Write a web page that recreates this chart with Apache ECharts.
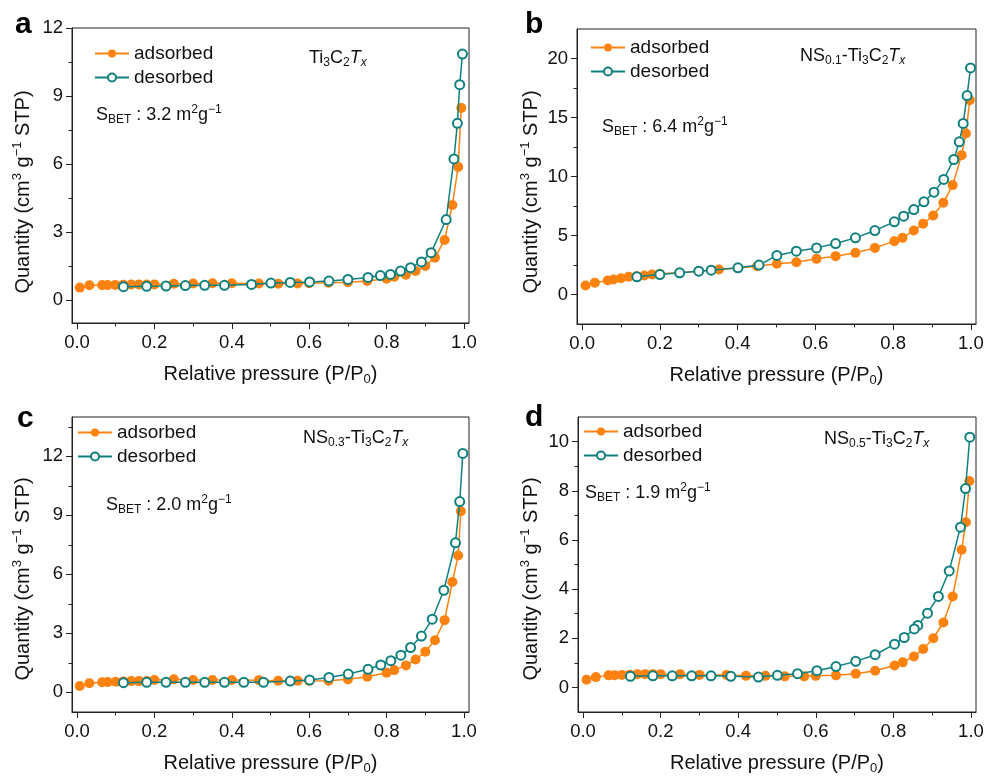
<!DOCTYPE html>
<html><head><meta charset="utf-8">
<script src="https://cdn.jsdelivr.net/npm/echarts@6/dist/echarts.min.js"></script>
<style>html,body{margin:0;padding:0;background:#fff}#c{width:987px;height:776px}</style>
</head><body><div id="c"></div>
<script>
// ---------- data ----------
const xTicks = [0, 0.2, 0.4, 0.6, 0.8, 1.0];
const xMinor = [0.1, 0.3, 0.5, 0.7, 0.9];

const aYTicks = [0, 3, 6, 9, 12];
const aYMinor = [1.5, 4.5, 7.5, 10.5];
const bYTicks = [0, 5, 10, 15, 20];
const bYMinor = [2.5, 7.5, 12.5, 17.5];
const cYTicks = [0, 3, 6, 9, 12];
const cYMinor = [1.5, 4.5, 7.5, 10.5, 13.5];
const dYTicks = [0, 2, 4, 6, 8, 10];
const dYMinor = [1, 3, 5, 7, 9];

// panel a: Ti3C2Tx
const aAdsX = [0.007,0.032,0.065,0.079,0.099,0.12,0.14,0.16,0.18,0.20,0.25,0.30,0.35,0.40,0.47,0.52,0.57,0.60,0.65,0.70,0.75,0.80,0.82,0.85,0.875,0.90,0.925,0.95,0.97,0.985,0.993];
const aAdsY = [0.56,0.66,0.67,0.67,0.68,0.69,0.70,0.70,0.70,0.70,0.73,0.74,0.75,0.75,0.74,0.73,0.74,0.75,0.77,0.80,0.85,0.95,1.04,1.13,1.29,1.51,1.88,2.66,4.2,5.88,8.48];
const aDesX = [0.996,0.989,0.983,0.974,0.954,0.915,0.89,0.862,0.836,0.81,0.784,0.752,0.70,0.651,0.601,0.551,0.501,0.451,0.381,0.33,0.28,0.23,0.18,0.12];
const aDesY = [10.85,9.5,7.8,6.23,3.56,2.1,1.69,1.44,1.29,1.14,1.09,1.01,0.92,0.85,0.81,0.79,0.76,0.70,0.66,0.66,0.65,0.63,0.62,0.60];

// panel b: NS0.1-Ti3C2Tx
const bAdsX = [0.009,0.033,0.066,0.081,0.10,0.12,0.14,0.16,0.18,0.20,0.25,0.30,0.352,0.40,0.45,0.501,0.551,0.603,0.652,0.703,0.753,0.803,0.824,0.853,0.877,0.903,0.929,0.953,0.976,0.987,0.997];
const bAdsY = [0.76,0.99,1.19,1.27,1.38,1.5,1.55,1.61,1.69,1.75,1.85,1.98,2.12,2.25,2.4,2.6,2.74,3.02,3.25,3.53,3.95,4.52,4.8,5.42,5.99,6.69,7.77,9.27,11.81,13.64,16.47];
const bDesX = [0.999,0.99,0.98,0.97,0.956,0.93,0.905,0.879,0.853,0.827,0.803,0.753,0.703,0.652,0.603,0.551,0.501,0.455,0.401,0.332,0.30,0.251,0.20,0.141];
const bDesY = [19.2,16.86,14.5,12.94,11.44,9.75,8.67,7.85,7.2,6.64,6.16,5.42,4.8,4.32,3.95,3.67,3.31,2.49,2.26,2.06,1.98,1.84,1.69,1.5];

// panel c: NS0.3-Ti3C2Tx
const cAdsX = [0.007,0.032,0.065,0.079,0.10,0.12,0.14,0.16,0.18,0.20,0.25,0.30,0.35,0.40,0.47,0.52,0.57,0.60,0.65,0.70,0.75,0.80,0.82,0.85,0.875,0.90,0.925,0.95,0.97,0.985,0.992];
const cAdsY = [0.32,0.46,0.51,0.52,0.54,0.55,0.57,0.57,0.58,0.63,0.66,0.63,0.63,0.63,0.62,0.59,0.59,0.58,0.59,0.66,0.79,1.0,1.13,1.37,1.67,2.06,2.65,3.67,5.61,6.96,9.21];
const cDesX = [0.997,0.989,0.978,0.948,0.918,0.89,0.862,0.837,0.811,0.785,0.752,0.701,0.651,0.601,0.551,0.482,0.431,0.381,0.33,0.28,0.23,0.18,0.12];
const cDesY = [12.15,9.7,7.6,5.19,3.72,2.86,2.28,1.89,1.61,1.39,1.17,0.93,0.76,0.63,0.57,0.51,0.51,0.51,0.51,0.51,0.51,0.51,0.49];

// panel d: NS0.5-Ti3C2Tx
const dAdsX = [0.009,0.033,0.066,0.081,0.10,0.12,0.14,0.16,0.18,0.20,0.25,0.30,0.37,0.42,0.47,0.52,0.57,0.60,0.652,0.703,0.753,0.803,0.824,0.853,0.877,0.903,0.929,0.953,0.976,0.987,0.996];
const dAdsY = [0.31,0.42,0.49,0.50,0.51,0.52,0.54,0.54,0.54,0.54,0.54,0.51,0.51,0.47,0.47,0.45,0.45,0.47,0.49,0.56,0.68,0.89,1.02,1.26,1.56,2.0,2.64,3.7,5.6,6.72,8.4];
const dDesX = [0.997,0.986,0.973,0.944,0.916,0.888,0.863,0.854,0.828,0.803,0.753,0.703,0.652,0.603,0.553,0.501,0.452,0.381,0.33,0.28,0.23,0.18,0.122];
const dDesY = [10.18,8.09,6.52,4.74,3.7,3.02,2.52,2.38,2.03,1.76,1.33,1.06,0.85,0.68,0.56,0.49,0.42,0.45,0.47,0.47,0.47,0.47,0.45];

const panelLetters = ['a', 'b', 'c', 'd'];
const sampleNames = [
  '{n|Ti}{sub|3}{n|C}{sub|2}{i|T}{isub|x}',
  '{n|NS}{sub|0.1}{n|-Ti}{sub|3}{n|C}{sub|2}{i|T}{isub|x}',
  '{n|NS}{sub|0.3}{n|-Ti}{sub|3}{n|C}{sub|2}{i|T}{isub|x}',
  '{n|NS}{sub|0.5}{n|-Ti}{sub|3}{n|C}{sub|2}{i|T}{isub|x}'
];
const sbetValues = ['3.2', '6.4', '2.0', '1.9'];
const seriesNames = ['adsorbed', 'desorbed'];
const xTitle = '{n|Relative pressure (P/P}{sub|0}{n|)}';
const yTitle = '{n|Quantity (cm}{sup|3}{n| g}{sup|\u22121}{n| STP)}';

// ---------- styling / layout ----------
const F = '"Liberation Sans", Arial, Helvetica, sans-serif';
const TXT = '#111';
const AX = '#222';
const ORANGE = '#FC820F';
const TEAL = '#10807E';

function rich(size) {
  const s = Math.round(size * 0.66);
  return {
    n: {fontSize: size, fontFamily: F, color: TXT, fill: TXT, lineHeight: size + 4},
    i: {fontSize: size, fontFamily: F, color: TXT, fill: TXT, fontStyle: 'italic', lineHeight: size + 4},
    sub: {fontSize: s, fontFamily: F, color: TXT, fill: TXT, lineHeight: 4, verticalAlign: 'bottom'},
    isub: {fontSize: s, fontFamily: F, color: TXT, fill: TXT, fontStyle: 'italic', lineHeight: 4, verticalAlign: 'bottom'},
    sup: {fontSize: s, fontFamily: F, color: TXT, fill: TXT, lineHeight: s - 1, verticalAlign: 'top'}
  };
}

const panels = [
  {ads: [aAdsX, aAdsY], des: [aDesX, aDesY], yMin: -1, yMax: 12, yTicks: aYTicks, yMinor: aYMinor},
  {ads: [bAdsX, bAdsY], des: [bDesX, bDesY], yMin: -2.5, yMax: 22.5, yTicks: bYTicks, yMinor: bYMinor},
  {ads: [cAdsX, cAdsY], des: [cDesX, cDesY], yMin: -1, yMax: 14, yTicks: cYTicks, yMinor: cYMinor},
  {ads: [dAdsX, dAdsY], des: [dDesX, dDesY], yMin: -1, yMax: 11, yTicks: dYTicks, yMinor: dYMinor}
];

const layout = [
  {grid: {left: 72, top: 28, width: 397, height: 295}, legend: {left: 94, top: 44}, letter: [15, 25], yT: [23, 192], sample: [309, 58], sbet: [96, 115]},
  {grid: {left: 577, top: 29, width: 399, height: 295}, legend: {left: 590, top: 38}, letter: [525, 25], yT: [531, 192], sample: [800, 56], sbet: [602, 127]},
  {grid: {left: 72, top: 417, width: 397, height: 295}, legend: {left: 77, top: 423}, letter: [17, 419], yT: [23, 579], sample: [303, 438], sbet: [106, 505]},
  {grid: {left: 578, top: 417, width: 398, height: 295}, legend: {left: 583, top: 422}, letter: [525, 418], yT: [531, 579], sample: [824, 439], sbet: [585, 493]}
];

const zip = (xs, ys) => xs.map((x, k) => [x, ys[k]]);

const option = {
  backgroundColor: '#fff',
  animation: false,
  grid: [], xAxis: [], yAxis: [], series: [], legend: [], graphic: []
};

const XMIN = -0.013, XMAX = 1.013;

panels.forEach((p, i) => {
  const L = layout[i];
  option.grid.push(Object.assign({show: true, borderColor: AX, borderWidth: 1, backgroundColor: 'transparent', containLabel: false, outerBoundsMode: 'none'}, L.grid));
  const lineSt = {color: AX, width: 1};
  option.xAxis.push({
    gridIndex: i, type: 'value', min: XMIN, max: XMAX, position: 'bottom',
    axisLine: {show: true, onZero: false, lineStyle: lineSt},
    axisTick: {show: true, customValues: xTicks, length: 6, lineStyle: lineSt},
    axisLabel: {customValues: xTicks, formatter: v => Number(v).toFixed(1), fontSize: 18.5, color: TXT, fontFamily: F, margin: 10},
    splitLine: {show: false},
    name: xTitle, nameLocation: 'middle', nameGap: 39,
    nameTextStyle: {rich: rich(20), fontSize: 20, fontFamily: F, color: TXT}
  });
  option.xAxis.push({
    gridIndex: i, type: 'value', min: XMIN, max: XMAX, position: 'bottom',
    axisLine: {show: false, onZero: false},
    axisTick: {show: true, customValues: xMinor, length: 3.5, lineStyle: lineSt},
    axisLabel: {show: false}, splitLine: {show: false}
  });
  option.yAxis.push({
    gridIndex: i, type: 'value', min: p.yMin, max: p.yMax, position: 'left',
    axisLine: {show: true, onZero: false, lineStyle: lineSt},
    axisTick: {show: true, customValues: p.yTicks, length: 6, lineStyle: lineSt},
    axisLabel: {customValues: p.yTicks, fontSize: 18.5, color: TXT, fontFamily: F, margin: 9},
    splitLine: {show: false}
  });
  option.yAxis.push({
    gridIndex: i, type: 'value', min: p.yMin, max: p.yMax, position: 'left',
    axisLine: {show: false, onZero: false},
    axisTick: {show: true, customValues: p.yMinor, length: 3.5, lineStyle: lineSt},
    axisLabel: {show: false}, splitLine: {show: false}
  });
  option.series.push({
    type: 'line', name: seriesNames[0], xAxisIndex: 2 * i, yAxisIndex: 2 * i,
    data: zip(p.ads[0], p.ads[1]), symbol: 'circle', symbolSize: 10,
    itemStyle: {color: ORANGE}, lineStyle: {color: ORANGE, width: 1.5},
    z: 2, silent: true, emphasis: {disabled: true}
  });
  option.series.push({
    type: 'line', name: seriesNames[1], xAxisIndex: 2 * i, yAxisIndex: 2 * i,
    data: zip(p.des[0], p.des[1]), symbol: 'emptyCircle', symbolSize: 9,
    itemStyle: {color: TEAL, borderWidth: 1.5}, lineStyle: {color: TEAL, width: 1.5},
    z: 3, silent: true, emphasis: {disabled: true}
  });
  option.legend.push({
    left: L.legend.left, top: L.legend.top, orient: 'vertical', padding: 0,
    itemWidth: 34, itemHeight: 10, itemGap: 5, selectedMode: false,
    data: seriesNames,
    textStyle: {fontSize: 19, color: TXT, fontFamily: F}
  });
  option.graphic.push(
    {type: 'text', x: L.letter[0], y: L.letter[1], silent: true,
     style: {text: panelLetters[i], font: 'bold 30px ' + F, fill: '#000', align: 'left', verticalAlign: 'middle'}},
    {type: 'text', x: L.yT[0], y: L.yT[1], rotation: Math.PI / 2, silent: true,
     style: {text: yTitle, rich: rich(20), font: '20px ' + F, fill: TXT, align: 'center', verticalAlign: 'middle'}},
    {type: 'text', x: L.sample[0], y: L.sample[1], silent: true,
     style: {text: sampleNames[i], rich: rich(18), font: '18px ' + F, fill: TXT, align: 'left', verticalAlign: 'middle'}},
    {type: 'text', x: L.sbet[0], y: L.sbet[1], silent: true,
     style: {text: '{n|S}{sub|BET}{n| : ' + sbetValues[i] + ' m}{sup|2}{n|g}{sup|\u22121}', rich: rich(18), font: '18px ' + F, fill: TXT, align: 'left', verticalAlign: 'middle'}}
  );
});

const chart = echarts.init(document.getElementById('c'), null, {renderer: 'canvas'});
chart.setOption(option);
</script>
</body></html>
